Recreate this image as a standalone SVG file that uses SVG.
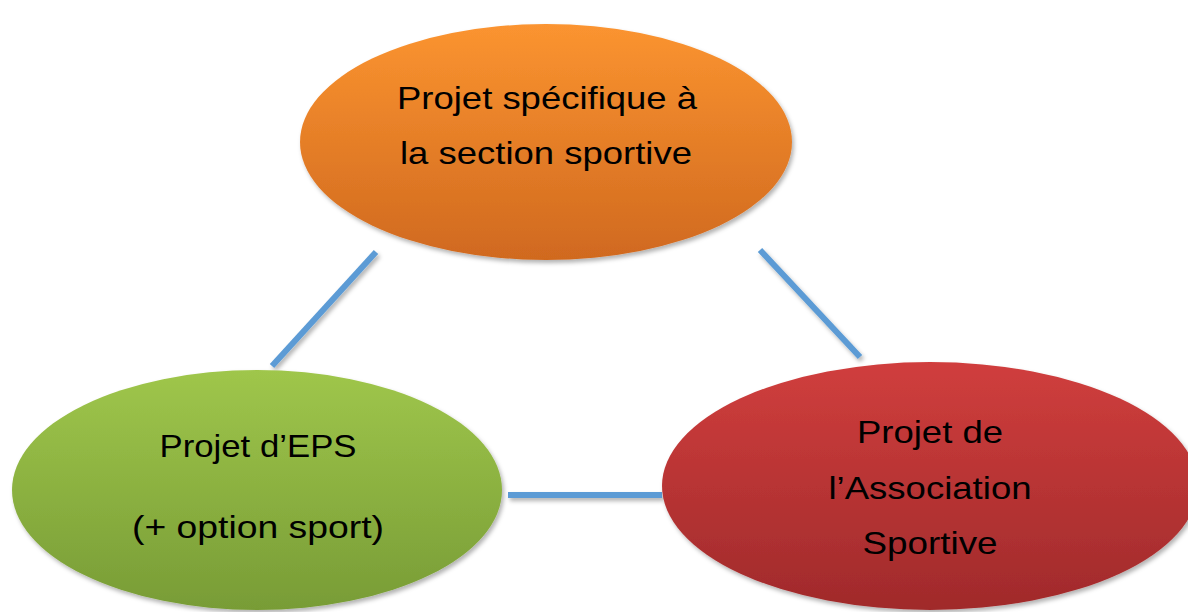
<svg xmlns="http://www.w3.org/2000/svg" width="1188" height="612" viewBox="0 0 1188 612">
<defs>
<linearGradient id="gOrange" x1="0" y1="0" x2="0" y2="1"><stop offset="0" stop-color="#FB9430"/><stop offset="1" stop-color="#D0691F"/></linearGradient>
<linearGradient id="gGreen" x1="0" y1="0" x2="0" y2="1"><stop offset="0" stop-color="#9FC64B"/><stop offset="1" stop-color="#789C36"/></linearGradient>
<linearGradient id="gRed" x1="0" y1="0" x2="0" y2="1"><stop offset="0" stop-color="#D03E3D"/><stop offset="1" stop-color="#A02A2B"/></linearGradient>
<filter id="sh" x="-10%" y="-10%" width="120%" height="125%"><feDropShadow dx="2" dy="3" stdDeviation="2" flood-color="#000" flood-opacity="0.3"/></filter>
</defs>
<style>
.lbl{font-family:"Liberation Sans",Arial,sans-serif;font-size:32px;fill:#000;text-anchor:middle}
.conn{stroke:#5B9BD5;stroke-width:6;fill:none}
</style>
<rect width="1188" height="612" fill="#fff"/>
<g id="connectors" filter="url(#sh)">
<line class="conn" x1="376" y1="252" x2="272" y2="366"/>
<line class="conn" x1="760" y1="250" x2="860" y2="357"/>
<line class="conn" x1="508" y1="495" x2="662" y2="495"/>
</g>
<g id="node-section">
<ellipse cx="546" cy="142" rx="246" ry="118" fill="url(#gOrange)" filter="url(#sh)"/>
<text class="lbl" x="547" y="109" textLength="300" lengthAdjust="spacingAndGlyphs">Projet spécifique à</text>
<text class="lbl" x="546" y="164" textLength="292" lengthAdjust="spacingAndGlyphs">la section sportive</text>
</g>
<g id="node-eps">
<ellipse cx="257" cy="490" rx="245" ry="120" fill="url(#gGreen)" filter="url(#sh)"/>
<text class="lbl" x="258" y="457" textLength="197" lengthAdjust="spacingAndGlyphs">Projet d’EPS</text>
<text class="lbl" x="258" y="538" textLength="252" lengthAdjust="spacingAndGlyphs">(+ option sport)</text>
</g>
<g id="node-as">
<ellipse cx="930" cy="486" rx="268" ry="124" fill="url(#gRed)" filter="url(#sh)"/>
<text class="lbl" x="930" y="443" textLength="146" lengthAdjust="spacingAndGlyphs">Projet de</text>
<text class="lbl" x="930" y="499" textLength="203" lengthAdjust="spacingAndGlyphs">l’Association</text>
<text class="lbl" x="930" y="554" textLength="135" lengthAdjust="spacingAndGlyphs">Sportive</text>
</g>
</svg>
